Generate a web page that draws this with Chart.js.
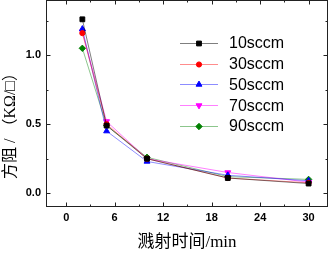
<!DOCTYPE html>
<html><head><meta charset="utf-8">
<script src="https://cdn.jsdelivr.net/npm/chart.js@4/dist/chart.umd.min.js"></script>
<style>html,body{margin:0;padding:0;background:#fff}#wrap{width:330px;height:253px}</style>
</head><body><div id="wrap"><canvas id="c" width="330" height="253"></canvas></div>
<script>
const times = [2, 5, 10, 20, 30];
const s10 = [1.26, 0.49, 0.25, 0.11, 0.07];
const s30 = [1.16, 0.50, 0.25, 0.11, 0.075];
const s50 = [1.19, 0.45, 0.23, 0.13, 0.09];
const s70 = [1.17, 0.52, 0.25, 0.15, 0.08];
const s90 = [1.05, 0.49, 0.26, 0.12, 0.10];
const seriesNames = ['10sccm', '30sccm', '50sccm', '70sccm', '90sccm'];
const xTicks = [0, 6, 12, 18, 24, 30];
const xMinor = [3, 9, 15, 21, 27];
const yTicks = [0.0, 0.5, 1.0];
const yMinor = [0.25, 0.75, 1.25];
const xTitle = '溅射时间/min';
const yTitle = '方阻 / （KΩ/□）';

const styles = [
  {c:'#000000', l:'rgba(0,0,0,0.5)', p:'rect', r:0},
  {c:'#ff0000', l:'rgba(255,0,0,0.45)', p:'circle', r:0},
  {c:'#0000ff', l:'rgba(0,0,255,0.45)', p:'triangle', r:0},
  {c:'#ff00ff', l:'rgba(255,0,255,0.5)', p:'triangle', r:180},
  {c:'#008000', l:'rgba(0,128,0,0.45)', p:'rectRot', r:0}
];
const allSeries = [s10, s30, s50, s70, s90];
const datasets = allSeries.map((s, i) => ({
  label: seriesNames[i],
  data: times.map((t, j) => ({x: t, y: s[j]})),
  borderColor: styles[i].l,
  backgroundColor: styles[i].c,
  pointBorderColor: styles[i].c,
  pointBackgroundColor: styles[i].c,
  pointStyle: styles[i].p,
  rotation: styles[i].r,
  pointRadius: styles[i].p === 'circle' ? 2.6 : (styles[i].p === 'rectRot' ? 3.2 : 3.4),
  borderWidth: 1,
  pointBorderWidth: 1,
  tension: 0
}));

const framePlugin = {
  id: 'frame',
  afterDatasetsDraw(chart) {
    const ctx = chart.ctx, a = chart.chartArea;
    const xs = chart.scales.x, ys = chart.scales.y;
    ctx.save();
    ctx.strokeStyle = '#222';
    ctx.lineWidth = 1;
    const L = Math.round(a.left) + 0.5, R = Math.round(a.right) - 0.5;
    const T = Math.round(a.top) + 0.5, B = Math.round(a.bottom) - 0.5;
    ctx.strokeRect(L, T, R - L, B - T);
    ctx.beginPath();
    const tick = (vals, len) => {
      vals.forEach(v => {
        const px = Math.round(xs.getPixelForValue(v)) + 0.5;
        ctx.moveTo(px, B); ctx.lineTo(px, B - len);
        ctx.moveTo(px, T); ctx.lineTo(px, T + len);
      });
    };
    const ytick = (vals, len) => {
      vals.forEach(v => {
        const py = Math.round(ys.getPixelForValue(v)) + 0.5;
        ctx.moveTo(L, py); ctx.lineTo(L + len, py);
        ctx.moveTo(R, py); ctx.lineTo(R - len, py);
      });
    };
    tick(xTicks, 4); tick(xMinor, 2);
    ytick(yTicks, 4); ytick(yMinor, 2);
    ctx.stroke();
    ctx.restore();
  },
  afterDraw(chart) {
    const ctx = chart.ctx, a = chart.chartArea;
    ctx.save();
    // legend
    chart.data.datasets.forEach((ds, i) => {
      const y = 42.7 + i * 20.8;
      ctx.strokeStyle = ds.borderColor;
      ctx.lineWidth = 1;
      ctx.beginPath();
      ctx.moveTo(180, Math.round(y) + 0.5);
      ctx.lineTo(218, Math.round(y) + 0.5);
      ctx.stroke();
      ctx.fillStyle = ds.pointBackgroundColor;
      ctx.strokeStyle = ds.pointBorderColor;
      Chart.helpers.drawPoint(ctx, {pointStyle: ds.pointStyle, rotation: ds.rotation, radius: ds.pointRadius, borderWidth: 1}, 199, Math.round(y) + 0.5);
      ctx.fillStyle = '#000';
      ctx.font = '16px "Liberation Sans", Arial, sans-serif';
      ctx.textAlign = 'left';
      ctx.textBaseline = 'middle';
      ctx.fillText(ds.label, 229, y + 1);
    });
    // axis titles
    ctx.fillStyle = '#000';
    ctx.font = '17px "Liberation Serif", "Noto Sans CJK SC", serif';
    ctx.textAlign = 'center';
    ctx.textBaseline = 'middle';
    ctx.fillText(xTitle, (a.left + a.right) / 2, 243);
    ctx.save();
    ctx.translate(11, 122);
    ctx.rotate(-Math.PI / 2);
    ctx.font = '16px "Liberation Serif", "Noto Sans CJK SC", serif';
    ctx.fillText(yTitle, 0, 0);
    ctx.restore();
    ctx.restore();
  }
};

const zeroPad = s => { s.paddingTop = 0; s.paddingBottom = 0; s.paddingLeft = 0; s.paddingRight = 0; };

new Chart(document.getElementById('c'), {
  type: 'line',
  data: {datasets},
  plugins: [framePlugin],
  options: {
    responsive: false,
    animation: false,
    devicePixelRatio: 1,
    layout: {autoPadding: false, padding: {top: 0, right: 2, left: 0, bottom: 0}},
    plugins: {legend: {display: false}, tooltip: {enabled: false}},
    scales: {
      x: {
        type: 'linear', min: -2.5, max: 32.4,
        grid: {display: false, drawTicks: false},
        border: {display: false},
        afterBuildTicks: s => { s.ticks = xTicks.map(v => ({value: v})); },
        afterFit: s => { s.height = 46; zeroPad(s); },
        ticks: {padding: 4, color: '#000', font: {family: '"Liberation Sans", Arial, sans-serif', size: 11, weight: 'bold'}, maxRotation: 0,
          callback: v => String(v)}
      },
      y: {
        type: 'linear', min: -0.1, max: 1.4,
        grid: {display: false, drawTicks: false},
        border: {display: false},
        afterBuildTicks: s => { s.ticks = yTicks.map(v => ({value: v})); },
        afterFit: s => { s.width = 46; zeroPad(s); },
        ticks: {padding: 5, color: '#000', font: {family: '"Liberation Sans", Arial, sans-serif', size: 11, weight: 'bold'},
          callback: v => Number(v).toFixed(1)}
      }
    }
  }
});
</script></body></html>
